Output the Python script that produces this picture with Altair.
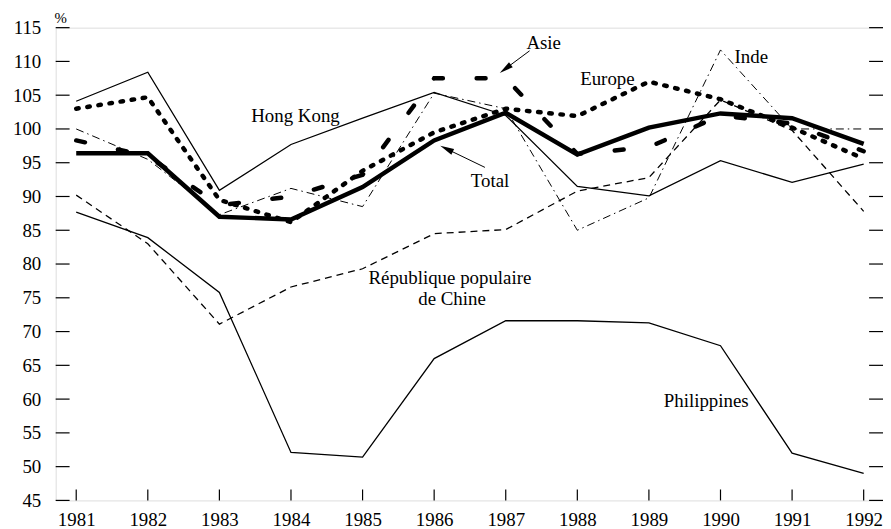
import altair as alt
import pandas as pd

years = list(range(1981, 1993))
total = [96.4, 96.4, 87.0, 86.6, 91.4, 98.3, 102.4, 96.2, 100.2, 102.3, 101.6, 97.8]
europe = [103.0, 104.7, 89.5, 86.2, 93.8, 99.5, 103.0, 101.9, 107.0, 104.4, 100.2, 95.6]
asie = [98.3, 96.0, 88.7, 90.0, 93.2, 107.5, 107.5, 96.3, 97.3, 102.0, 100.8, 96.7]
inde = [100.0, 95.5, 87.3, 91.2, 88.5, 105.3, 103.0, 85.0, 89.8, 111.7, 100.0, 100.0]
hong_kong = [104.1, 108.4, 90.9, 97.7, 101.6, 105.4, 102.0, 91.5, 90.1, 95.3, 92.1, 94.8]
chine = [90.2, 83.0, 71.1, 76.6, 79.3, 84.5, 85.1, 90.8, 92.8, 104.3, 99.8, 87.8]
philippines = [87.7, 83.9, 75.8, 52.1, 51.4, 66.0, 71.6, 71.6, 71.3, 67.9, 52.0, 49.0]

y_ticks = list(range(45, 120, 5))

# annotation labels (text, x, y, align)
label_text = ["Hong Kong", "Asie", "Europe", "Inde", "Total",
              "République populaire", "de Chine", "Philippines"]
label_x = [1983.445, 1987.53, 1988.42, 1990.43, 1986.78, 1986.22, 1986.25, 1989.80]
label_y = [101.07, 111.81, 106.47, 109.75, 91.47, 77.01, 73.97, 58.87]
label_align = ["left", "center", "center", "center", "center", "center", "center", "center"]

# arrows: start (x, y), head centre (x, y), angle
arrow_x = [1987.333, 1986.709]
arrow_y = [111.57, 94.31]
arrow_x2 = [1986.994, 1986.172]
arrow_y2 = [108.90, 97.06]
arrow_angle = [233.2, 295.7]

W, H = 833, 476
FONT = "Liberation Serif"
FS = 19

xscale = alt.Scale(domain=[1980.713, 1992.27], nice=False, zero=False)
yscale = alt.Scale(domain=[45, 115], nice=False, zero=False)
xaxis = alt.Axis(values=years, format="d", title=None, tickSize=0, domain=False,
                 grid=False, labelFont=FONT, labelFontSize=FS, labelColor="black",
                 labelPadding=10, labelOverlap=False)
yaxis = alt.Axis(values=y_ticks, format="d", title=None, tickSize=0, domain=False, grid=False,
                 labelFont=FONT, labelFontSize=FS, labelColor="black",
                 labelPadding=15, labelOverlap=False)


def X(field):
    return alt.X(field, scale=xscale, axis=xaxis)


def Y(field):
    return alt.Y(field, scale=yscale, axis=yaxis)


def series(values, width, dash=None, cap="butt"):
    df = pd.DataFrame({"year": years, "v": values})
    kw = dict(color="black", strokeWidth=width, strokeCap=cap, strokeJoin="miter", clip=True)
    if dash:
        kw["strokeDash"] = dash
    return alt.Chart(df).mark_line(**kw).encode(x=X("year:Q"), y=Y("v:Q"))


layers = [
    series(philippines, 1.3),
    series(hong_kong, 1.3),
    series(chine, 1.3, [7, 5]),
    series(inde, 1.0, [8, 4, 1.5, 4]),
    series(asie, 4.5, [9, 34], "round"),
    series(europe, 4.5, [2.5, 8.8], "round"),
    series(total, 4.5),
]

ydf = pd.DataFrame({"t": y_ticks})
xdf = pd.DataFrame({"t": years})
left_ticks = alt.Chart(ydf).mark_rule(color="black", strokeWidth=1.2).encode(
    y=Y("t:Q"), x=alt.value(0), x2=alt.value(14))
right_ticks = alt.Chart(ydf).mark_rule(color="black", strokeWidth=1.2).encode(
    y=Y("t:Q"), x=alt.value(W - 14), x2=alt.value(W))
bottom_ticks = alt.Chart(xdf).mark_rule(color="black", strokeWidth=1.2).encode(
    x=X("t:Q"), y=alt.value(H - 11), y2=alt.value(H))

ldf = pd.DataFrame({"text": label_text, "x": label_x, "y": label_y, "align": label_align})
left_labels = alt.Chart(ldf[ldf["align"] == "left"]).mark_text(
    font=FONT, fontSize=FS, color="black", align="left", baseline="alphabetic").encode(
    x=X("x:Q"), y=Y("y:Q"), text="text:N")
center_labels = alt.Chart(ldf[ldf["align"] == "center"]).mark_text(
    font=FONT, fontSize=FS, color="black", align="center", baseline="alphabetic").encode(
    x=X("x:Q"), y=Y("y:Q"), text="text:N")

adf = pd.DataFrame({"x": arrow_x, "y": arrow_y, "x2": arrow_x2, "y2": arrow_y2, "angle": arrow_angle})
arrow_lines = alt.Chart(adf).mark_rule(color="black", strokeWidth=1).encode(
    x=X("x:Q"), y=Y("y:Q"), x2="x2:Q", y2="y2:Q")
arrow_heads = alt.Chart(adf).mark_point(
    shape="M0,-1L-0.45,1L0.45,1Z", filled=True, color="black", opacity=1, size=196).encode(
    x=X("x2:Q"), y=Y("y2:Q"), angle=alt.Angle("angle:Q", scale=None))

percent = alt.Chart(pd.DataFrame({"t": ["%"]})).mark_text(
    font=FONT, fontSize=15, color="black", align="center", baseline="middle").encode(
    text="t:N", x=alt.value(5), y=alt.value(-10))

chart = alt.layer(
    *layers, left_ticks, right_ticks, bottom_ticks, left_labels, center_labels,
    arrow_lines, arrow_heads, percent
).properties(
    width=W, height=H,
    autosize=alt.AutoSizeParams(type="none"),
    padding={"left": 48, "top": 18, "right": 0, "bottom": 27},
).configure_view(stroke="black", strokeWidth=1.6).configure_axis(
    labelOverlap=False
).configure(background="white")

chart.save("out.html", embed_options={"renderer": "svg", "actions": False})
